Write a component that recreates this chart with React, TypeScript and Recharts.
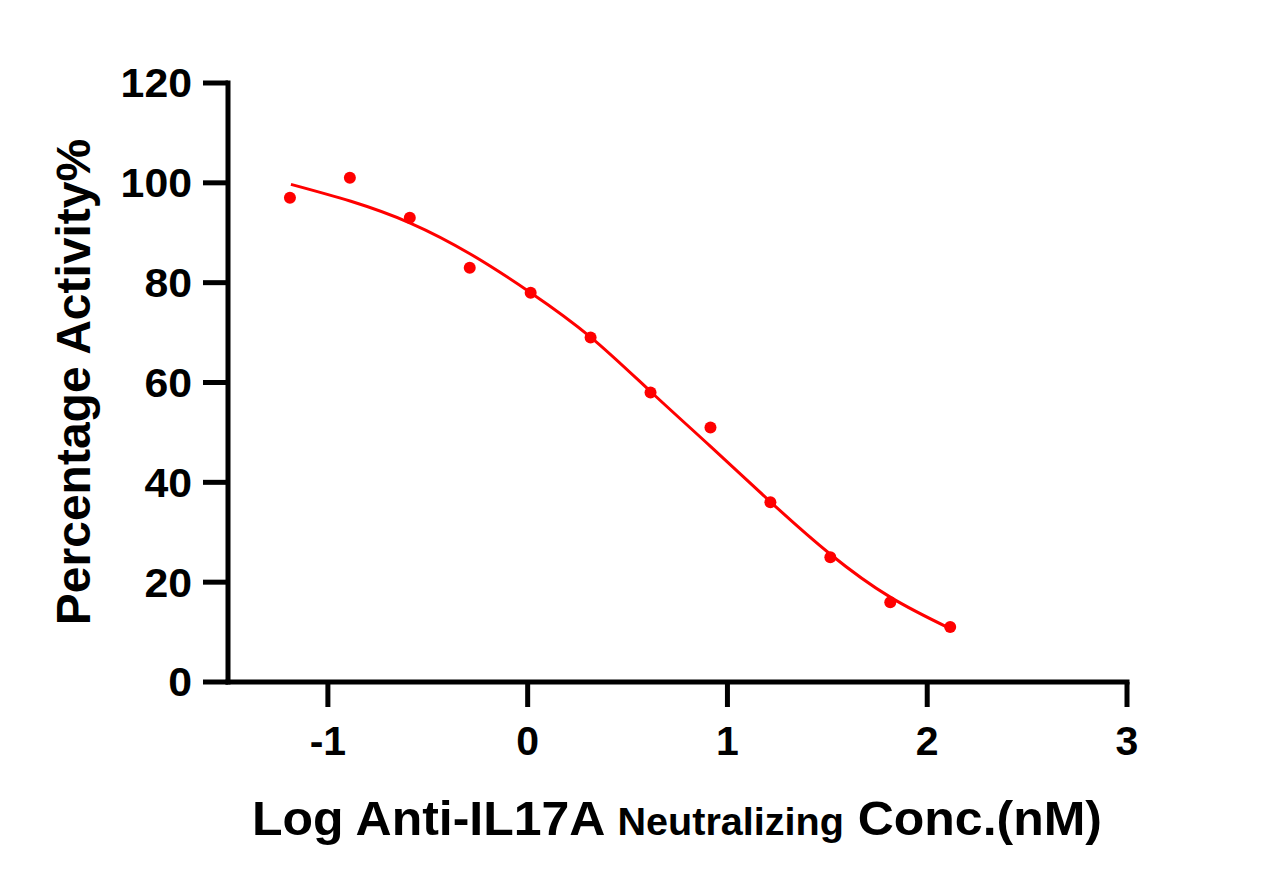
import { ComposedChart, Line, Scatter, XAxis, YAxis } from "recharts";

// log concentration (nM) of each well
const logConc = [-1.19, -0.89, -0.59, -0.29, 0.015, 0.315, 0.615, 0.915, 1.215, 1.515, 1.815, 2.115];
// measured percentage activity
const activity = [97, 101, 93, 83, 78, 69, 58, 51, 36, 25, 16, 11];
// fitted curve at the same x positions
const fitX = [-1.185, -0.885, -0.585, -0.285, 0.015, 0.315, 0.615, 0.915, 1.215, 1.515, 1.815, 2.115];
const fitY = [99.7, 96.3, 91.9, 85.7, 78.0, 69.1, 58.2, 47.2, 36.1, 25.6, 17.0, 10.7];

const xTicks = [-1, 0, 1, 2, 3];
const yTicks = [0, 20, 40, 60, 80, 100, 120];

const points = logConc.map((x, i) => ({ x, y: activity[i] }));
const fit = fitX.map((x, i) => ({ x, y: fitY[i] }));

const FONT = '"Liberation Sans", Arial, Helvetica, sans-serif';
const RED = "#ff0000";

function YTick({ x, y, payload }: any) {
  return (
    <text
      transform={`translate(${x},${y}) scale(1.07,1)`}
      dy="0.36em"
      textAnchor="end"
      fontFamily={FONT}
      fontWeight="bold"
      fontSize={40}
      fill="#000"
    >
      {payload.value}
    </text>
  );
}

function XTick({ x, y, payload }: any) {
  return (
    <text x={x} y={y} dy={48} textAnchor="middle" fontFamily={FONT} fontWeight="bold" fontSize={41} fill="#000">
      {payload.value}
    </text>
  );
}

const axisStyle = { stroke: "#000", strokeWidth: 5, strokeLinecap: "square" as const };
const tickStyle = { stroke: "#000", strokeWidth: 5 };

export default function App() {
  return (
    <div style={{ position: "absolute", left: 0, top: 0, background: "#fff" }}>
      <ComposedChart width={1269} height={889} margin={{ top: 83, right: 142, bottom: 87, left: 0 }}>
        <XAxis
          type="number"
          dataKey="x"
          domain={[-1.5, 3]}
          ticks={xTicks}
          allowDataOverflow
          height={120}
          axisLine={axisStyle}
          tickLine={tickStyle}
          tickSize={25}
          tickMargin={0}
          tick={<XTick />}
          label={{
            content: () => (
              <text
                x={677}
                y={835}
                textAnchor="middle"
                textLength={850}
                lengthAdjust="spacingAndGlyphs"
                fontFamily={FONT}
                fontWeight="bold"
                fill="#000"
              >
                <tspan fontSize={48}>Log Anti-IL17A </tspan>
                <tspan fontSize={38}>Neutralizing</tspan>
                <tspan fontSize={48}> Conc.(nM)</tspan>
              </text>
            ),
          }}
        />
        <YAxis
          type="number"
          dataKey="y"
          domain={[0, 120]}
          ticks={yTicks}
          width={228}
          axisLine={axisStyle}
          tickLine={tickStyle}
          tickSize={25}
          tickMargin={11}
          tick={<YTick />}
          label={{
            content: () => (
              <text
                x={90}
                y={382}
                transform="rotate(-90 90 382)"
                textAnchor="middle"
                fontFamily={FONT}
                fontWeight="bold"
                fontSize={48}
                fill="#000"
              >
                Percentage Activity%
              </text>
            ),
          }}
        />
        <Line
          data={fit}
          dataKey="y"
          type="natural"
          stroke={RED}
          strokeWidth={3}
          dot={false}
          activeDot={false}
          isAnimationActive={false}
        />
        <Scatter
          data={points}
          dataKey="y"
          fill={RED}
          shape={(p: any) => <circle cx={p.cx} cy={p.cy} r={6} fill={RED} />}
          isAnimationActive={false}
        />
      </ComposedChart>
    </div>
  );
}
